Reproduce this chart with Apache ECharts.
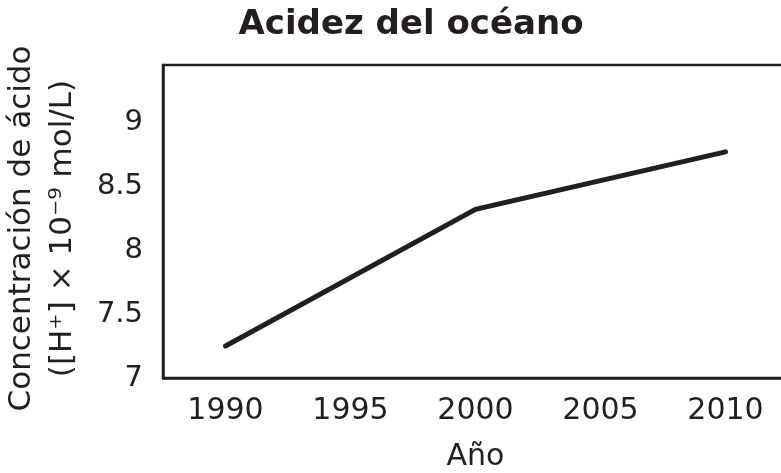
<!DOCTYPE html>
<html>
<head>
<meta charset="utf-8">
<script src="https://cdn.jsdelivr.net/npm/echarts@6/dist/echarts.min.js"></script>
<style>html,body{margin:0;padding:0;background:#fff}#c{width:781px;height:473px}</style>
</head>
<body>
<div id="c"></div>
<script>
const years = [1990, 2000, 2010];
const acidity = [7.25, 8.32, 8.77];
const xTicks = [1990, 1995, 2000, 2005, 2010];
const yTicks = [7, 7.5, 8, 8.5, 9];

const ink = '#231f20';
const font = 'DejaVu Sans';
const chart = echarts.init(document.getElementById('c'));
chart.setOption({
  animation: false,
  backgroundColor: '#fff',
  title: {
    text: 'Acidez del océano',
    left: 406, top: 3, textAlign: 'center',
    textStyle: { fontFamily: font, fontWeight: 'bold', fontSize: 34, color: ink }
  },
  grid: { left: 163, top: 65, bottom: 95, right: -7, outerBoundsMode: 'none', containLabel: false,
          show: true, borderColor: ink, borderWidth: 2.5, backgroundColor: 'transparent' },
  xAxis: {
    type: 'value', min: 1987.5, max: 2012.5, interval: 2.5,
    name: 'Año', nameLocation: 'middle', nameGap: 64,
    nameTextStyle: { fontFamily: font, fontSize: 30, color: ink },
    axisLine: { show: true, lineStyle: { color: ink, width: 2.5 } },
    axisTick: { show: false }, splitLine: { show: false },
    axisLabel: {
      margin: 18, fontFamily: font, fontSize: 30, color: ink,
      formatter: v => xTicks.indexOf(Math.round(v * 10) / 10) >= 0 ? String(Math.round(v)) : ''
    }
  },
  yAxis: {
    type: 'value', min: 7, max: 9.45, interval: 0.5,
    name: 'Concentración de ácido\n([H⁺] × 10⁻⁹ mol/L)', nameLocation: 'middle', nameRotate: 90, nameGap: 80,
    nameTextStyle: { fontFamily: font, fontSize: 31, color: ink, lineHeight: 41, padding: [0, 14, 0, 0] },
    axisLine: { show: true, lineStyle: { color: ink, width: 2.5 } },
    axisTick: { show: false }, splitLine: { show: false },
    axisLabel: {
      margin: 20, fontFamily: font, fontSize: 29, color: ink,
      formatter: v => yTicks.indexOf(Math.round(v * 100) / 100) >= 0 ? String(Math.round(v * 100) / 100) : ''
    }
  },
  series: [{
    type: 'line',
    data: years.map((y, i) => [y, acidity[i]]),
    showSymbol: false,
    lineStyle: { color: ink, width: 5, cap: 'round', join: 'miter' }
  }]
});
</script>
</body>
</html>
